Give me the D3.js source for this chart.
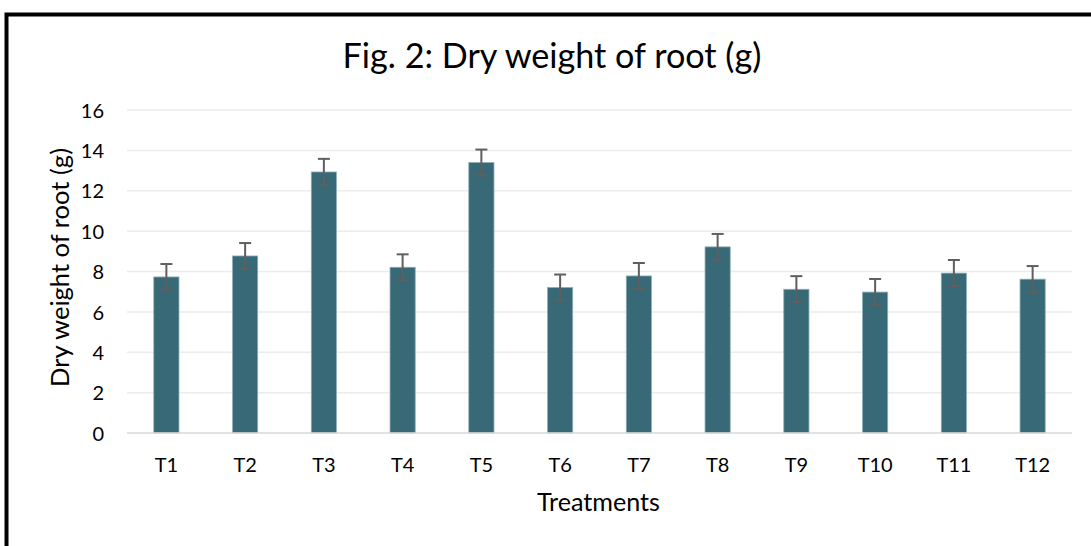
<!DOCTYPE html>
<html>
<head>
<meta charset="utf-8">
<script src="https://cdn.jsdelivr.net/npm/d3@7"></script>
<style>
  html, body { margin: 0; padding: 0; background: #fff; }
  svg { display: block; }
  text { font-family: Lato, "Open Sans", sans-serif; fill: #000; }
</style>
</head>
<body>
<svg id="chart" width="1091" height="546"></svg>
<script>
const categories = ["T1","T2","T3","T4","T5","T6","T7","T8","T9","T10","T11","T12"];
const values = [7.73, 8.77, 12.93, 8.21, 13.40, 7.21, 7.78, 9.22, 7.12, 6.98, 7.92, 7.62];
const errors = [0.64, 0.64, 0.65, 0.64, 0.64, 0.64, 0.64, 0.64, 0.65, 0.65, 0.65, 0.65];
const yTicks = [0, 2, 4, 6, 8, 10, 12, 14, 16];
const titleText = "Fig. 2: Dry weight of root (g)";
const xTitle = "Treatments";
const yTitle = "Dry weight of root (g)";

const svg = d3.select("#chart");
const W = 1091, H = 546;
const mLeft = 127, mRight = 1072, mTop = 110, mBottom = 433;

// outer frame
svg.append("rect").attr("x", 6.5).attr("y", 14.5).attr("width", W + 20).attr("height", H + 20)
  .attr("fill", "none").attr("stroke", "#000").attr("stroke-width", 4);

const x = d3.scaleBand().domain(categories).range([mLeft, mRight])
  .paddingInner(0.68).paddingOuter(0.34);
const y = d3.scaleLinear().domain([0, 16]).range([mBottom, mTop]);

function fitText(sel, width) {
  const node = sel.node();
  const fs = parseFloat(sel.attr("font-size"));
  const w = node.getComputedTextLength();
  if (w > 0) sel.attr("font-size", (fs * width / w).toFixed(2));
}

// gridlines
svg.append("g").selectAll("line").data(yTicks.filter(d => d > 0)).join("line")
  .attr("x1", mLeft).attr("x2", mRight)
  .attr("y1", d => y(d)).attr("y2", d => y(d))
  .attr("stroke", "#ececec").attr("stroke-width", 1.5);

// y axis labels
const yAxis = d3.axisLeft(y).tickValues(yTicks).tickSize(0).tickPadding(0);
const yg = svg.append("g").attr("transform", `translate(104,0)`).call(yAxis);
yg.select(".domain").remove();
yg.selectAll("text").attr("font-family", "Lato, 'Open Sans', sans-serif")
  .attr("font-size", 20).attr("fill", "#000").attr("dy", "0.36em");

// bars
svg.append("g").selectAll("rect").data(values).join("rect")
  .attr("x", (d, i) => x(categories[i]))
  .attr("width", x.bandwidth())
  .attr("y", d => y(d))
  .attr("height", d => y(0) - y(d))
  .attr("fill", "#376976")
  .attr("stroke", "#8fb0b8").attr("stroke-width", 0.8);

// baseline
svg.append("line").attr("x1", mLeft).attr("x2", mRight)
  .attr("y1", y(0)).attr("y2", y(0))
  .attr("stroke", "#d9d9d9").attr("stroke-width", 1.5);

// error bars
const eg = svg.append("g").attr("stroke", "#5f5f5f").attr("stroke-width", 2);
values.forEach((v, i) => {
  const cx = x(categories[i]) + x.bandwidth() / 2;
  const e = errors[i];
  eg.append("line").attr("x1", cx).attr("x2", cx).attr("y1", y(v - e)).attr("y2", y(v + e));
  eg.append("line").attr("x1", cx - 6).attr("x2", cx + 6).attr("y1", y(v + e)).attr("y2", y(v + e));
  eg.append("line").attr("x1", cx - 6).attr("x2", cx + 6).attr("y1", y(v - e)).attr("y2", y(v - e));
});

// x axis labels
const xAxis = d3.axisBottom(x).tickSize(0).tickPadding(0);
const xg = svg.append("g").attr("transform", `translate(0,${mBottom})`).call(xAxis);
xg.select(".domain").remove();
xg.selectAll("text").attr("font-family", "Lato, 'Open Sans', sans-serif")
  .attr("font-size", 20).attr("fill", "#000").attr("dy", 0).attr("y", 38.5);

// title
const t = svg.append("text").attr("x", 552).attr("y", 68).attr("text-anchor", "middle")
  .attr("font-size", 34).text(titleText);
fitText(t, 419);

// x title
const xt = svg.append("text").attr("x", 598.5).attr("y", 511).attr("text-anchor", "middle")
  .attr("font-size", 23).text(xTitle);
fitText(xt, 123);

// y title
const yt = svg.append("text").attr("transform", "translate(69,267.5) rotate(-90)")
  .attr("text-anchor", "middle").attr("font-size", 24).text(yTitle);
fitText(yt, 239);
</script>
</body>
</html>
